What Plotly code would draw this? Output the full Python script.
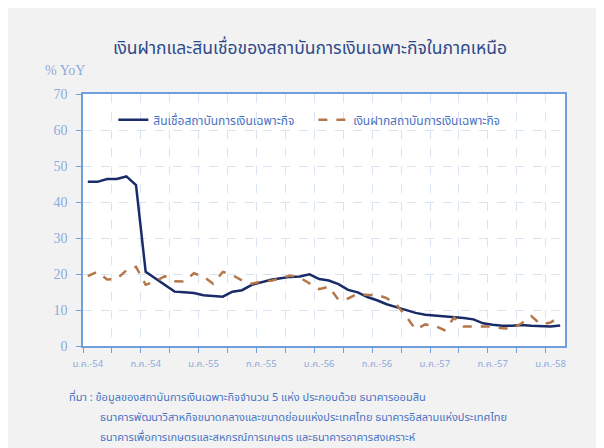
import plotly.graph_objects as go

# monthly, ม.ค.-54 .. ก.พ.-58 (50 months)
months = list(range(50))
tick_pos = [0, 6, 12, 18, 24, 30, 36, 42, 48]
tick_text = ["ม.ค.-54", "ก.ค.-54", "ม.ค.-55", "ก.ค.-55", "ม.ค.-56",
             "ก.ค.-56", "ม.ค.-57", "ก.ค.-57", "ม.ค.-58"]

credit = [45.6, 45.6, 46.4, 46.4, 47.1, 44.7, 20.6, 18.8, 16.9, 15.1,
          14.9, 14.7, 14.1, 14.0, 13.7, 15.1, 15.5, 17.0, 17.8, 18.4,
          18.8, 19.2, 19.3, 19.9, 18.6, 18.2, 17.2, 15.6, 14.9, 13.6,
          12.7, 11.6, 10.8, 10.0, 9.2, 8.7, 8.5, 8.1, 7.9, 7.8,
          7.4, 6.3, 5.9, 5.6, 5.6, 5.8, 5.6, 5.4, 5.4, 5.7]

deposit = [19.4, 20.6, 18.5, 18.6, 21.0, 22.0, 17.0, 18.0, 19.4, 18.0,
           17.9, 20.2, 19.3, 17.3, 20.6, 19.7, 18.2, 17.3, 17.9, 18.1,
           18.8, 19.6, 19.0, 17.3, 15.8, 16.5, 12.8, 13.2, 14.5, 14.2,
           14.2, 13.3, 11.5, 8.3, 4.6, 6.0, 5.6, 4.4, 7.9, 5.4,
           5.4, 5.6, 5.4, 4.9, 4.8, 6.3, 8.3, 6.0, 6.5, 8.3]

thai = "Noto Sans Thai, Noto Sans Thai UI, Loma, Tahoma, Noto Sans, sans-serif"
blue_txt = "#4a72c4"
light_txt = "#8eaadb"

fig = go.Figure()
fig.add_trace(go.Scatter(x=months, y=credit, mode="lines",
                         name="สินเชื่อสถาบันการเงินเฉพาะกิจ",
                         line=dict(color="#1a2c68", width=2.5)))
fig.add_trace(go.Scatter(x=months, y=deposit, mode="lines",
                         name="เงินฝากสถาบันการเงินเฉพาะกิจ",
                         line=dict(color="#b5774a", width=2.5, dash="dash")))

fig.update_layout(
    width=604, height=448,
    margin=dict(l=75, r=47, t=86, b=110),
    paper_bgcolor="#f2f2f2", plot_bgcolor="white",
    font=dict(family=thai, color=blue_txt),
    title=dict(text="เงินฝากและสินเชื่อของสถาบันการเงินเฉพาะกิจในภาคเหนือ",
               x=0.5, xanchor="center", y=1 - 40 / 448, yanchor="middle",
               font=dict(size=17.5, color="#2e4a8a")),
    showlegend=True,
    legend=dict(orientation="h", x=0.063, y=0.955, xanchor="left", yanchor="top",
                bgcolor="rgba(0,0,0,0)", font=dict(size=12, color=blue_txt),
                itemwidth=30, entrywidth=155, entrywidthmode="pixels"),
    xaxis=dict(range=[-0.5, 49.5], tickmode="array", tickvals=tick_pos,
               ticktext=tick_text, showgrid=False, ticks="",
               ticklabelstandoff=8,
               tickfont=dict(size=9.5, color=light_txt),
               showline=True, linecolor="#6e9fdc", linewidth=1.5, mirror=True,
               zeroline=False,
               minor=dict(tick0=-0.5, dtick=3, showgrid=True,
                          gridcolor="#d9e3f2", griddash="dash", gridwidth=1,
                          ticks="outside", ticklen=5, tickcolor="#6e9fdc")),
    yaxis=dict(range=[0, 70], dtick=10, showgrid=True, gridcolor="#d9e3f2",
               griddash="dash", ticks="outside", ticklen=5, tickcolor="#6e9fdc",
               ticklabelstandoff=6,
               tickfont=dict(family="Liberation Serif", size=14, color=light_txt),
               showline=True, linecolor="#6e9fdc", linewidth=1.5, mirror=True,
               zeroline=False),
)

fig.add_annotation(text="% YoY", xref="paper", yref="paper",
                   x=-0.083, y=1.095, xanchor="left", yanchor="middle",
                   showarrow=False,
                   font=dict(family="Liberation Serif", size=14, color=light_txt))

notes = [
    ("ที่มา : ข้อมูลของสถาบันการเงินเฉพาะกิจจำนวน 5 แห่ง ประกอบด้วย ธนาคารออมสิน", -0.033, 397),
    ("ธนาคารพัฒนาวิสาหกิจขนาดกลางและขนาดย่อมแห่งประเทศไทย ธนาคารอิสลามแห่งประเทศไทย", 0.031, 417),
    ("ธนาคารเพื่อการเกษตรและสหกรณ์การเกษตร และธนาคารอาคารสงเคราะห์", 0.031, 437),
]
for txt, nx, py in notes:
    fig.add_annotation(text=txt, xref="paper", yref="paper",
                       x=nx, y=(346 - py) / 252, xanchor="left", yanchor="middle",
                       showarrow=False, font=dict(size=11, color=blue_txt))

fig.write_html("out.html")
